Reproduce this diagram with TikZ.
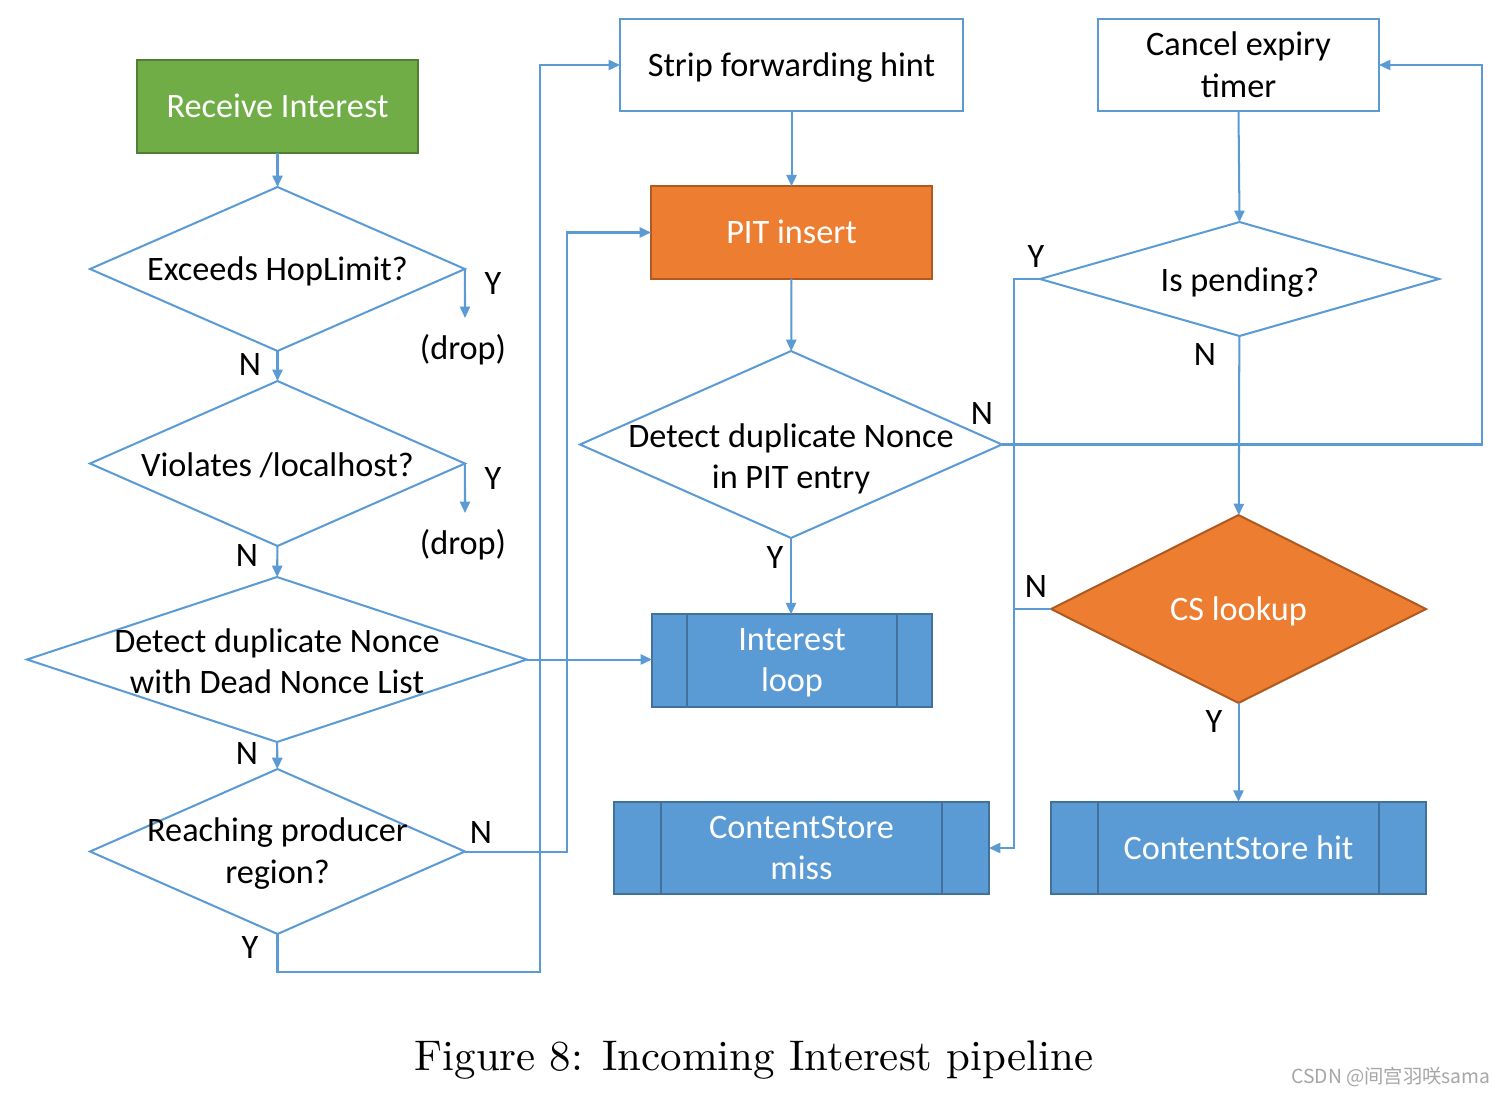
\documentclass[tikz,border=0pt]{standalone}
\usepackage{fontspec}
\usetikzlibrary{shapes.geometric, arrows.meta}
\newfontfamily\boxfont{Carlito}
\newfontfamily\capfont{lmroman10-regular.otf}
\newfontfamily\wmfont{Noto Sans CJK SC}
\definecolor{lineblue}{HTML}{5B9BD5}
\definecolor{boxblue}{HTML}{5B9BD5}
\definecolor{boxblueedge}{HTML}{41719C}
\definecolor{boxgreen}{HTML}{70AD47}
\definecolor{boxgreenedge}{HTML}{507E32}
\definecolor{boxorange}{HTML}{ED7D31}
\definecolor{boxorangeedge}{HTML}{AE5A21}
\tikzset{
    txt/.style={font=\boxfont\fontsize{19.5}{23.4}\selectfont, align=center, inner sep=0pt},
    procbox/.style={txt, draw=lineblue, line width=1.15pt, fill=white,
        minimum width=#1, minimum height=1.85cm, outer sep=0pt, text depth=0.5pt},
    dia/.style 2 args={diamond, draw=lineblue, line width=1.15pt, fill=white,
        minimum width=#1, minimum height=#2, inner sep=0pt, outer sep=0pt},
    subproc/.style={fill=boxblue, draw=boxblueedge, text=white,
        path picture={
            \draw[boxblueedge, line width=1.15pt]
                ([xshift=#1]path picture bounding box.north west) -- ([xshift=#1]path picture bounding box.south west)
                ([xshift=-#1]path picture bounding box.north east) -- ([xshift=-#1]path picture bounding box.south east);
        }},
    link/.style={draw=lineblue, line width=1.15pt},
    flow/.style={link, -{Triangle[length=6.5pt, width=5.8pt]}},
}

\begin{document}
\begin{tikzpicture}[x=0.02cm, y=-0.02cm]
    \useasboundingbox (0,0) rectangle (1506,1095);

    % boxes
    \node[procbox=5.62cm, fill=boxgreen, draw=boxgreenedge, text=white] (recv) at (277.5,106.5) {Receive Interest};
    \node[procbox=6.86cm] (strip) at (791.5,65) {Strip forwarding hint};
    \node[procbox=5.62cm, fill=boxorange, draw=boxorangeedge, text=white] (pit) at (791.5,232.5) {PIT insert};
    \node[procbox=5.62cm] (cancel) at (1238.5,65) {Cancel expiry\\timer};
    \node[procbox=5.6cm, subproc=0.7cm] (loop) at (792,660.5) {Interest\\loop};
    \node[procbox=7.5cm, subproc=0.94cm] (miss) at (801.5,848) {ContentStore\\miss};
    \node[procbox=7.5cm, subproc=0.94cm] (hit) at (1238.5,848) {ContentStore hit};

    % decisions
    \node[dia={7.5cm}{3.28cm}] (d1) at (277.5,269) {};
    \node[dia={7.5cm}{3.3cm}] (d2) at (277.5,463.5) {};
    \node[dia={10cm}{3.3cm}] (d3) at (277,659.5) {};
    \node[dia={7.5cm}{3.3cm}] (d4) at (277.5,851.5) {};
    \node[dia={8.44cm}{3.74cm}] (d5) at (791,444.5) {};
    \node[dia={7.98cm}{2.28cm}] (d6) at (1239.5,279) {};
    \node[dia={7.5cm}{3.76cm}, fill=boxorange, draw=boxorangeedge] (cs) at (1238.5,609) {};

    \node[txt] (d1t) at (277.5,271) {Exceeds HopLimit?};
    \node[txt] (d2t) at (277.5,465.5) {Violates /localhost?};
    \node[txt] (d3t) at (277,661.5) {Detect duplicate Nonce\\with Dead Nonce List};
    \node[txt] (d4t) at (277.5,853.5) {Reaching producer\\region?};
    \node[txt] (d5t) at (791,459) {Detect duplicate Nonce\\in PIT entry};
    \node[txt] (d6t) at (1240,283) {Is pending?};
    \node[txt, text=white] (cst) at (1238.5,611) {CS lookup};

    \coordinate (drop1) at (465,318);
    \coordinate (drop2) at (465,513);
    \node[txt] (drop1t) at (463,350) {(drop)};
    \node[txt] (drop2t) at (463,545) {(drop)};

    % connectors
    \draw[flow] (recv) -- (d1);
    \draw[flow] (d1) -- (d2);
    \draw[flow] (d2) -- (d3);
    \draw[flow] (d3) -- (d4);
    \draw[flow] (d1.east) -- (drop1);
    \draw[flow] (d2.east) -- (drop2);
    \draw[flow] (d3.east) -- (d3.east -| loop.west);
    \draw[flow] (d4.east) -- ++(102,0) |- (pit.west);
    \draw[flow] (d4.south) |- (540,972) |- (strip.west);
    \draw[flow] (strip) -- (pit);
    \draw[flow] (pit) -- (d5);
    \draw[flow] (d5.south) -- (d5.south |- loop.north);
    \draw[flow] (d5.east) -- (1482,444.5) |- (cancel.east);
    \draw[flow] (cancel.south) -- (d6.north);
    \draw[flow] (d6) -- (cs);
    \draw[flow] (d6.west) -- ++(-26,0) |- (miss.east);
    \draw[link] (cs.west) -- ++(-36,0);
    \draw[flow] (cs) -- (hit);

    % branch labels
    \foreach \t/\x/\y [count=\i] in {Y/493/284, N/250/365, Y/493/479, N/247/555, N/247/753,
            N/481/832, Y/250/947, N/982/414, Y/775/557, Y/1036/257, N/1205/355, N/1036/587, Y/1214/721} {
        \node[txt] (yn\i) at (\x,\y) {\t};
    }

    \node[font=\capfont\fontsize{24.4}{29}\selectfont, anchor=base, inner sep=0pt] (caption) at (754,1070)
        {Figure 8: Incoming Interest pipeline};
    \node[font=\wmfont\fontsize{11}{14}\selectfont, text=black!35, anchor=base west, inner sep=0pt] (mark) at (1291,1083)
        {CSDN @间宫羽咲sama};
\end{tikzpicture}
\end{document}
